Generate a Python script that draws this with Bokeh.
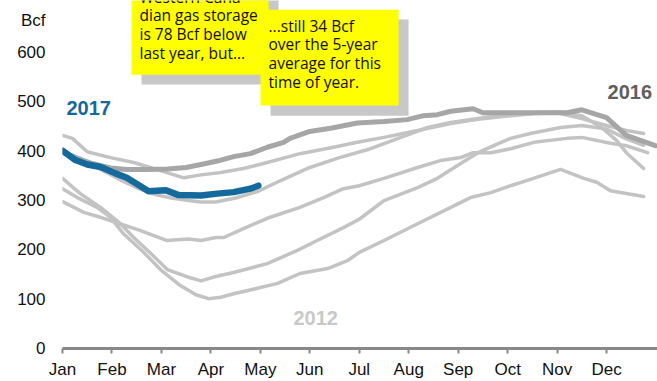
from bokeh.plotting import figure
from bokeh.models import Label, BoxAnnotation, FixedTicker, Range1d
from bokeh.embed import file_html
from bokeh.resources import INLINE

# ---------------- data (month position: 0 = Jan 1, values in Bcf) ----------------
months = ["Jan", "Feb", "Mar", "Apr", "May", "Jun", "Jul", "Aug", "Sep", "Oct", "Nov", "Dec"]
y_ticks = [0, 100, 200, 300, 400, 500, 600]
unit_label = "Bcf"

s2017_m = [0, 0.26, 0.5, 0.77, 1.07, 1.3, 1.48, 1.74, 2.08, 2.35, 2.8, 3.13, 3.46, 3.8, 3.96]
s2017_v = [401, 382, 373, 368, 355, 346, 335, 319, 321, 311, 310, 314, 317, 324, 330]

s2016_m = [0, 0.3, 0.6, 0.97, 1.3, 1.7, 2.12, 2.5, 2.8, 3.13, 3.46, 3.8, 4.14, 4.47, 4.6, 5.0,
           5.45, 5.96, 6.5, 6.97, 7.3, 7.58, 7.85, 8.3, 8.5, 9.06, 9.5, 10.2, 10.5, 11.0, 11.4, 12.0]
s2016_v = [398, 386, 375, 366, 363, 363, 364, 367, 373, 380, 389, 395, 408, 418, 426, 440,
           447, 457, 460, 464, 472, 474, 481, 486, 478, 478, 478, 478, 484, 468, 432, 411]

sA_m = [0, 0.2, 0.5, 0.97, 1.44, 1.64, 2.0, 2.45, 2.8, 3.2, 3.66, 4.14, 4.8, 5.48, 5.96, 6.5,
        7.18, 7.85, 8.5, 9.06, 9.5, 10.0, 10.5, 11.0, 11.4, 11.75]
sA_v = [432, 426, 399, 387, 377, 371, 360, 346, 352, 357, 365, 377, 395, 408, 418, 428,
        442, 456, 466, 472, 476, 478, 466, 452, 442, 436]

sB_m = [0, 0.3, 0.6, 0.87, 1.2, 1.54, 1.88, 2.2, 2.55, 2.8, 3.1, 3.5, 3.94, 4.4, 5.0, 5.6,
        6.23, 6.84, 7.38, 7.85, 8.5, 9.06, 9.5, 10.0, 10.5, 10.9, 11.2, 11.4, 11.75]
sB_v = [402, 386, 372, 358, 340, 324, 312, 305, 300, 297, 297, 305, 318, 340, 367, 387,
        405, 428, 448, 458, 468, 476, 478, 480, 472, 448, 422, 397, 365]

sC_m = [0, 0.36, 0.77, 1.17, 1.44, 1.78, 2.12, 2.53, 2.8, 3.1, 3.46, 4.14, 4.75, 5.15, 5.68, 6.0,
        6.5, 7.18, 7.58, 8.05, 8.4, 8.8, 9.06, 9.46, 10.07, 10.5, 11.0, 11.4, 11.75]
sC_v = [345, 314, 286, 253, 225, 193, 160, 145, 137, 146, 154, 172, 199, 219, 245, 262,
        300, 326, 345, 375, 397, 415, 426, 436, 448, 452, 445, 425, 412]

sD_m = [0, 0.3, 0.7, 0.97, 1.23, 1.64, 1.98, 2.39, 2.7, 2.95, 3.2, 3.46, 3.94, 4.35, 4.8, 5.36,
        5.76, 6.0, 6.5, 7.18, 7.85, 8.25, 8.66, 9.06, 9.4, 10.07, 10.54, 10.8, 11.08, 11.75]
sD_v = [324, 306, 286, 266, 233, 195, 160, 127, 109, 101, 104, 111, 122, 132, 152, 162,
        178, 195, 219, 253, 286, 306, 316, 330, 341, 363, 345, 337, 320, 308]

sE_m = [0, 0.43, 0.77, 1.1, 1.58, 2.1, 2.55, 2.8, 3.1, 3.26, 3.66, 4.14, 4.8, 5.28, 5.68, 6.0,
        6.5, 7.18, 7.64, 8.05, 8.3, 8.66, 9.06, 9.53, 10.2, 10.5, 11.08, 11.4, 11.83]
sE_v = [298, 276, 266, 255, 239, 219, 222, 219, 225, 225, 243, 264, 286, 306, 324, 330,
        345, 367, 381, 387, 397, 397, 405, 418, 426, 428, 416, 411, 397]

callout1 = ["Western Cana-", "dian gas storage", "is 78 Bcf below", "last year, but..."]
callout2 = ["...still 34 Bcf", "over the 5-year", "average for this", "time of year."]

# ---------------- styling ----------------
BLUE = "#146a9c"
LIGHT = "#c3c3c3"
DARK = "#a6a6a6"
AX_FONT = "Liberation Sans"
NOTE_FONT = "Open Sans"
NOTE_SIZE = "15.5px"
UNIT_POS = 665  # where the unit label sits on the value axis

p = figure(width=657, height=381, output_backend="svg", toolbar_location=None,
           x_range=Range1d(0, 12.03), y_range=Range1d(0, 705.5),
           min_border_left=62, min_border_right=0, min_border_top=0, min_border_bottom=33)
p.outline_line_color = None
p.grid.visible = False
p.background_fill_color = "white"

# x axis
p.xaxis.ticker = FixedTicker(ticks=list(range(12)))
p.xaxis.major_label_overrides = {i: m for i, m in enumerate(months)}
p.xaxis.axis_line_color = "#888888"
p.xaxis.axis_line_width = 3
p.xaxis.major_tick_line_color = "#888888"
p.xaxis.major_tick_line_width = 2
p.xaxis.major_tick_in = 0
p.xaxis.major_tick_out = 5
p.xaxis.minor_tick_line_color = None
p.xaxis.major_label_standoff = 6
p.xaxis.major_label_text_font = AX_FONT
p.xaxis.major_label_text_font_size = "17px"
p.xaxis.major_label_text_color = "#111111"

# y axis (unit label shown at the top of the value axis)
p.yaxis.ticker = FixedTicker(ticks=y_ticks + [UNIT_POS])
p.yaxis.major_label_overrides = {UNIT_POS: unit_label}
p.yaxis.axis_line_color = None
p.yaxis.major_tick_line_color = None
p.yaxis.minor_tick_line_color = None
p.yaxis.major_tick_in = 0
p.yaxis.major_tick_out = 0
p.yaxis.major_label_standoff = 17
p.yaxis.major_label_text_font = AX_FONT
p.yaxis.major_label_text_font_size = "17px"
p.yaxis.major_label_text_color = "#111111"

# lines
for xs, ys in [(sA_m, sA_v), (sB_m, sB_v), (sC_m, sC_v), (sD_m, sD_v), (sE_m, sE_v)]:
    p.line(xs, ys, line_color=LIGHT, line_width=3.5, line_join="round", line_cap="round")
p.line(s2016_m, s2016_v, line_color=DARK, line_width=5, line_join="round", line_cap="round")
p.line(s2017_m, s2017_v, line_color=BLUE, line_width=6.5, line_join="round", line_cap="round")

# series labels
p.add_layout(Label(x=0.08, y=487, text="2017", text_font=AX_FONT, text_font_style="bold",
                   text_font_size="20px", text_color=BLUE, text_baseline="middle"))
p.add_layout(Label(x=11.02, y=519, text="2016", text_font=AX_FONT, text_font_style="bold",
                   text_font_size="20px", text_color="#5f5f5f", text_baseline="middle"))
p.add_layout(Label(x=4.67, y=61, text="2012", text_font=AX_FONT, text_font_style="bold",
                   text_font_size="20px", text_color="#c8c8c8", text_baseline="middle"))

# callout 1
p.add_layout(BoxAnnotation(left=1.598, right=4.368, bottom=535, top=800,
                           fill_color="#c8c8c8", fill_alpha=1, line_color=None))
p.add_layout(BoxAnnotation(left=1.395, right=4.166, bottom=555, top=800,
                           fill_color="#ffff00", fill_alpha=1, line_color=None))
for i, t in enumerate(callout1):
    p.add_layout(Label(x=1.557, y=713.6 - 38.5 * i, text=t, text_font=NOTE_FONT,
                       text_font_size=NOTE_SIZE, text_color="#111111", text_baseline="middle"))

# callout 2
p.add_layout(BoxAnnotation(left=4.206, right=6.997, bottom=472, top=667,
                           fill_color="#c8c8c8", fill_alpha=1, line_color=None))
p.add_layout(BoxAnnotation(left=4.004, right=6.795, bottom=492.6, top=687,
                           fill_color="#ffff00", fill_alpha=1, line_color=None))
for i, t in enumerate(callout2):
    p.add_layout(Label(x=4.166, y=654.8 - 38.5 * i, text=t, text_font=NOTE_FONT,
                       text_font_size=NOTE_SIZE, text_color="#111111", text_baseline="middle"))

open("out.html", "w").write(file_html(p, INLINE))
